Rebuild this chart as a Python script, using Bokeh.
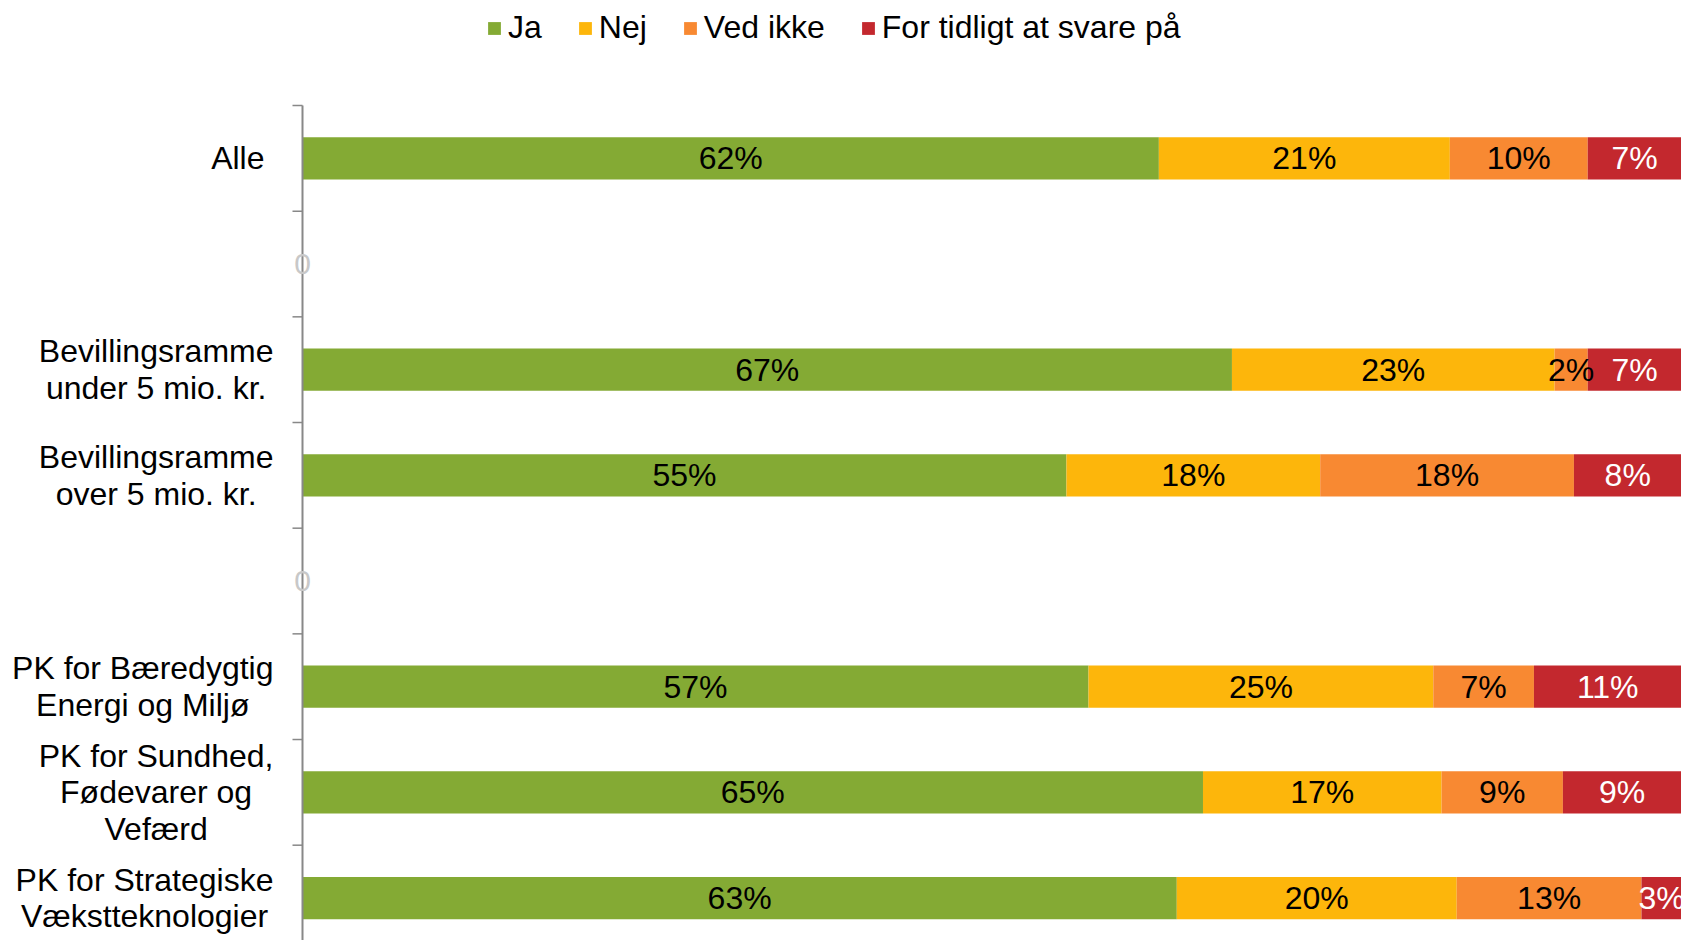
from bokeh.plotting import figure
from bokeh.models import ColumnDataSource, Range1d, Legend, LegendItem
from bokeh.core.properties import value
from bokeh.embed import file_html
from bokeh.resources import INLINE

categories = ["Alle", "", "Bevillingsramme\nunder 5 mio. kr.", "Bevillingsramme\nover 5 mio. kr.", "",
              "PK for Bæredygtig\nEnergi og Miljø", "PK for Sundhed,\nFødevarer og\nVefærd",
              "PK for Strategiske\nVækstteknologier"]
series = ["Ja", "Nej", "Ved ikke", "For tidligt at svare på"]
ja = [62.1, 0, 67.4, 55.4, 0, 57.0, 65.3, 63.4]
nej = [21.1, 0, 23.4, 18.4, 0, 25.0, 17.3, 20.3]
ved_ikke = [10.0, 0, 2.4, 18.4, 0, 7.3, 8.8, 13.4]
for_tidligt = [6.8, 0, 6.8, 7.8, 0, 10.7, 8.6, 2.9]
colors = ["#84AA34", "#FDB60B", "#F88932", "#C3282E"]
label_colors = ["black", "black", "black", "white"]

FONTNAME = "Liberation Sans"
FONT = value(FONTNAME)
FS = 32

# approximate Arial/Liberation Sans advance widths (per 1000 em) for centring wrapped labels
W = {' ': 278, ',': 278, '.': 278, '5': 556, 'A': 667, 'B': 667, 'E': 667, 'F': 611, 'K': 667, 'M': 833,
     'P': 667, 'S': 667, 'V': 667, 'a': 556, 'b': 556, 'c': 500, 'd': 556, 'e': 556, 'f': 278, 'g': 556,
     'h': 556, 'i': 222, 'j': 222, 'k': 500, 'l': 222, 'm': 833, 'n': 556, 'o': 556, 'p': 556, 'r': 333,
     's': 500, 't': 278, 'u': 556, 'v': 500, 'y': 500, 'æ': 889, 'ø': 611, 'å': 556}


def text_w(s):
    return max(sum(W.get(c, 556) for c in line) for line in s.split("\n")) * FS / 1000.0


# layout (pixels)
WIDTH, HEIGHT = 1681, 940
AXIS_PX = 302          # axis position from figure left
TOP_PX = 105           # axis top from figure top
SLOT_PX = 105.67
n = len(categories)
px_per_pct = (WIDTH - AXIS_PX) / 100.0
x0 = -AXIS_PX / px_per_pct
y_top = n + TOP_PX / SLOT_PX
y_bot = n - (HEIGHT - TOP_PX) / SLOT_PX

ys = [n - i - 0.5 for i in range(n)]
keys = ["ja", "nej", "ved", "tidligt"]
vals = [ja, nej, ved_ikke, for_tidligt]
src = ColumnDataSource(dict(y=ys, **{k: v for k, v in zip(keys, vals)}))

p = figure(width=WIDTH, height=HEIGHT, x_range=Range1d(x0, 100), y_range=Range1d(y_bot, y_top),
           output_backend="svg", toolbar_location=None, x_axis_location=None, y_axis_location=None,
           min_border_left=0, min_border_right=0, min_border_top=0, min_border_bottom=0)
p.outline_line_color = None
p.xgrid.visible = False
p.ygrid.visible = False

rs = p.hbar_stack(keys, y="y", height=0.4, color=colors, line_color=None, source=src)

# category axis: line, boundary ticks, labels
tick_len = 10 / px_per_pct
p.segment(x0=[0], y0=[y_bot], x1=[0], y1=[n], line_color="#888888", line_width=2)
p.segment(x0=[-tick_len] * n, y0=list(range(1, n + 1)), x1=[0] * n, y1=list(range(1, n + 1)),
          line_color="#888888", line_width=1.5)


def lab_right(c):
    return -(29 if "\n" in c else 38) / px_per_pct


lab = [(lab_right(c) - text_w(c) / 2 / px_per_pct, y, c) for c, y in zip(categories, ys) if c]
p.text(x=[a for a, _, _ in lab], y=[b for _, b, _ in lab], text=[c for _, _, c in lab],
       text_align="center", text_baseline="middle", text_font=FONT, text_font_size=f"{FS}px",
       text_color="black", text_line_height=1.02)

# data labels
for si, (k, v) in enumerate(zip(keys, vals)):
    xs, yy, tt = [], [], []
    for i in range(n):
        if v[i] > 0:
            left = sum(vals[j][i] for j in range(si))
            xs.append(left + v[i] / 2)
            yy.append(ys[i])
            tt.append(f"{round(v[i])}%")
    p.text(x=xs, y=yy, text=tt, text_align="center", text_baseline="middle",
           text_font=FONT, text_font_size=f"{FS}px", text_color=label_colors[si])

# zero labels for empty rows
zr = [i for i in range(n) if ja[i] == 0]
p.text(x=[0] * len(zr), y=[ys[i] for i in zr], text=["0"] * len(zr), text_align="center",
       text_baseline="middle", text_font=FONT, text_font_size="30px", text_color="#c8c8c8")

legend = Legend(items=[LegendItem(label=s, renderers=[r]) for s, r in zip(series, rs)],
                orientation="horizontal", location=(486, HEIGHT - 27 - 19),
                glyph_width=16, glyph_height=16, label_standoff=6, spacing=35,
                label_text_font=FONTNAME, label_text_font_size=f"{FS}px", label_text_color="black",
                padding=0, margin=0, border_line_color=None, background_fill_alpha=0)
p.add_layout(legend)

open("out.html", "w").write(file_html(p, INLINE))
